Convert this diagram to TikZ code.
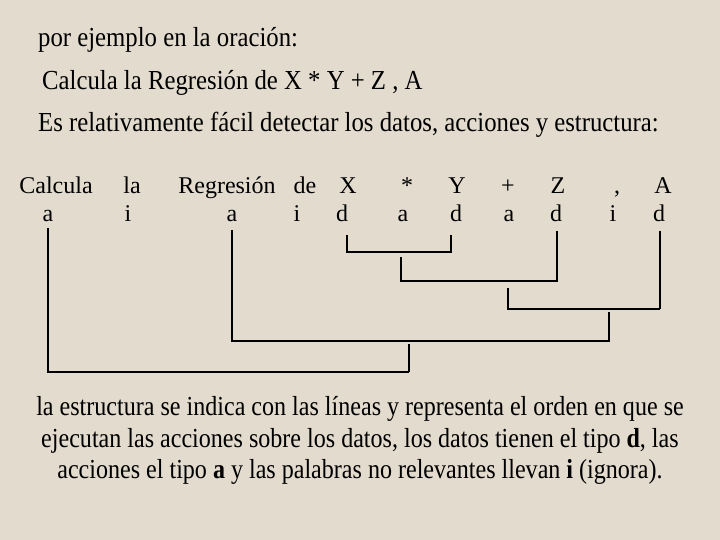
\documentclass[tikz,border=0pt]{standalone}
\usepackage{fontspec}
\setmainfont{Liberation Serif}
\newfontfamily\condfont[FakeStretch=0.9]{Liberation Serif}
\newfontfamily\condbfont[FakeStretch=0.875]{Liberation Serif}
\definecolor{bgc}{RGB}{226,219,206}
\begin{document}
\begin{tikzpicture}[x=1pt,y=-1pt,
  cond/.style={font=\condfont\fontsize{27.5}{32}\selectfont, anchor=base west, inner sep=0pt},
  condc/.style={font=\condbfont\fontsize{27.5}{32}\selectfont, anchor=base, inner sep=0pt},
  word/.style={font=\fontsize{24}{28}\selectfont, anchor=base, inner sep=0pt},
  tag/.style={font=\fontsize{24}{28}\selectfont, anchor=base, inner sep=0pt},
  thickln/.style={line width=2.6pt},
  midln/.style={line width=2pt},
  thinln/.style={line width=1.4pt}]
\fill[bgc] (0,0) rectangle (720,540);
\useasboundingbox (0,0) rectangle (720,540);
% header text
\node[cond] (t1) at (38,47) {por ejemplo en la oración:};
\node[cond] (t2) at (42,90) {Calcula la Regresión de X * Y + Z , A};
\node[cond] (t3) at (38,132) {Es relativamente fácil detectar los datos, acciones y estructura:};
% words
\node[word] (w1) at (56,194) {Calcula};
\node[word] (w2) at (132,194) {la};
\node[word] (w3) at (227,194) {Regresión};
\node[word] (w4) at (305,194) {de};
\node[word] (w5) at (348,194) {X};
\node[word] (w6) at (407,194) {*};
\node[word] (w7) at (457,194) {Y};
\node[word] (w8) at (508,194) {+};
\node[word] (w9) at (558,194) {Z};
\node[word] (w10) at (617,194) {,};
\node[word] (w11) at (663,194) {A};
% tags
\node[tag] (a1) at (48,222) {a};
\node[tag] (i1) at (128,222) {i};
\node[tag] (a2) at (232,222) {a};
\node[tag] (i2) at (297,222) {i};
\node[tag] (d1) at (342,222) {d};
\node[tag] (a3) at (403,222) {a};
\node[tag] (d2) at (456,222) {d};
\node[tag] (a4) at (509,222) {a};
\node[tag] (d3) at (556,222) {d};
\node[tag] (i3) at (613,222) {i};
\node[tag] (d4) at (659,222) {d};
% structure lines
\coordinate (c1) at (347,235);
\coordinate (c2) at (451,235);
\draw[midln] (c1) -- (347,252) -- (451,252) -- (c2);
\draw[thinln] (401,257) -- (401,281) -- (444,281);
\draw[thickln] (444,281) -- (557,281) -- (557,231);
\draw[thinln] (508,288) -- (508,309) -- (533,309);
\draw[midln] (508,288) -- (508,309);
\draw[thickln] (533,309) -- (660,309);
\draw[thinln] (660,231) -- (660,309);
\draw[thickln] (660,290) -- (660,309);
\draw[thinln] (232,230) -- (232,341) -- (609,341) -- (609,312);
\draw[thickln] (48,228) -- (48,372) -- (409,372);
\draw[midln] (409,372) -- (409,344);
% bottom text
\node[condc] (b1) at (360,415) {la estructura se indica con las líneas y representa el orden en que se};
\node[condc] (b2) at (360,447) {ejecutan las acciones sobre los datos, los datos tienen el tipo \textbf{d}, las};
\node[condc] (b3) at (360,478) {acciones el tipo \textbf{a} y las palabras no relevantes llevan \textbf{i} (ignora).};
\end{tikzpicture}
\end{document}
